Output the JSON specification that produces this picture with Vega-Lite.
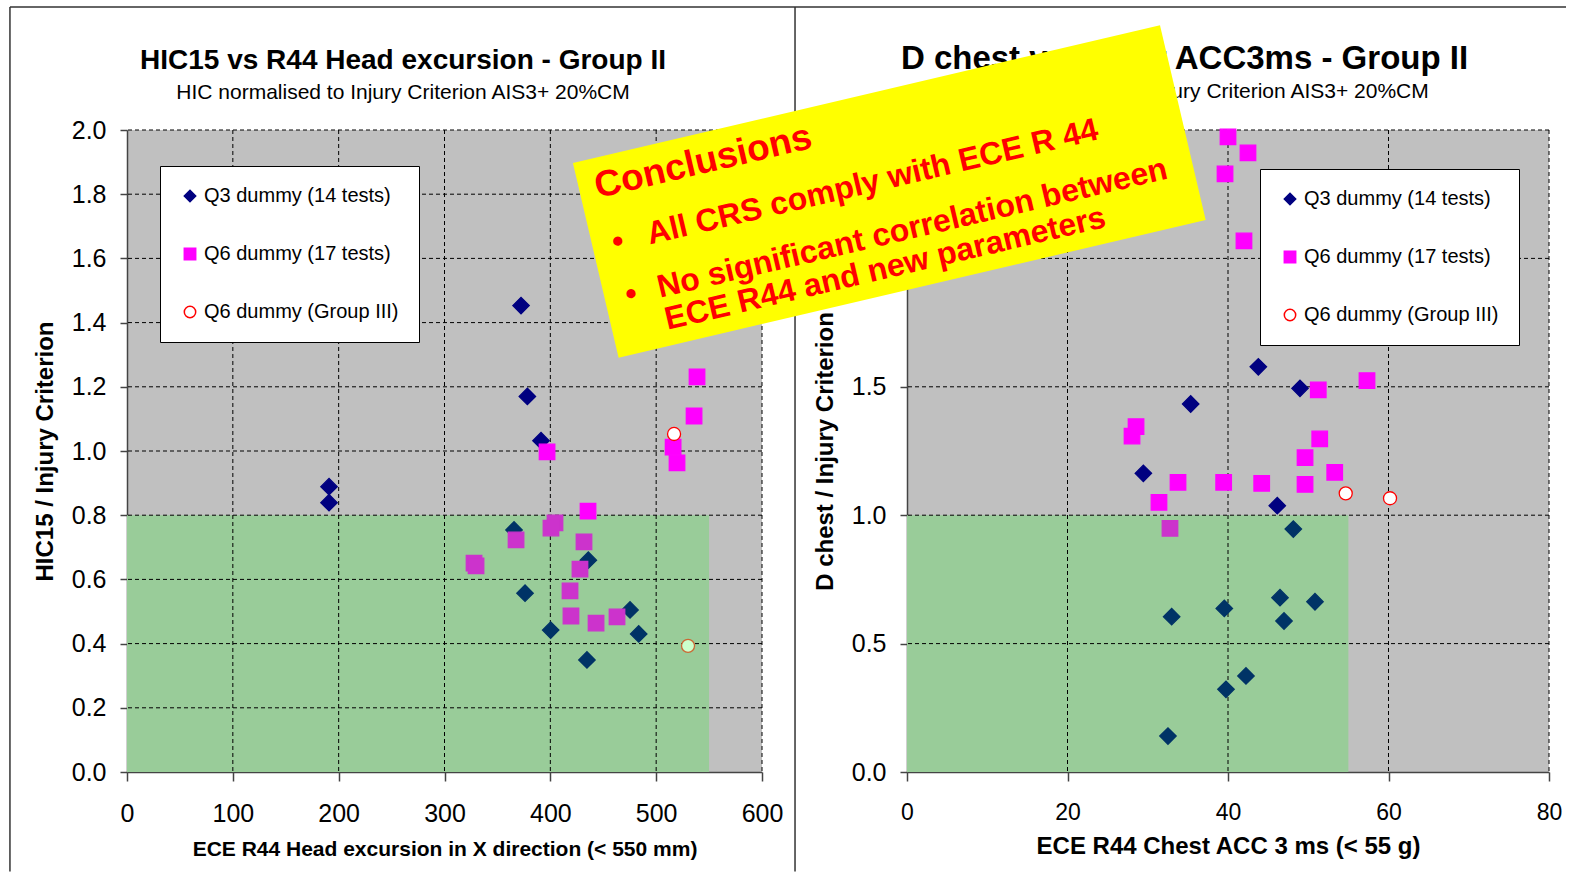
{
  "$schema": "https://vega.github.io/schema/vega-lite/v6.json",
  "background": "white",
  "padding": {"left": 9, "top": 6, "right": 2, "bottom": 2},
  "autosize": {"type": "pad"},
  "spacing": 145,
  "bounds": "flush",
  "resolve": {"scale": {"fill": "independent", "stroke": "independent", "shape": "independent"}, "legend": {"fill": "independent", "stroke": "independent", "shape": "independent"}},
  "config": {
    "view": {"fill": "#C0C0C0", "stroke": null},
    "font": "Liberation Sans",
    "axis": {"grid": false, "domainColor": "#444444", "domainWidth": 1.5, "tickColor": "#444444", "tickWidth": 1.5, "labelColor": "black", "labelFont": "Liberation Sans", "titleFont": "Liberation Sans", "titleColor": "black", "titleFontWeight": "bold", "labelFlush": false, "labelOverlap": false},
    "legend": {"fillColor": "white", "strokeColor": "black", "padding": 20, "rowPadding": 38, "labelFontSize": 20, "labelFont": "Liberation Sans", "labelColor": "black", "labelOffset": 4, "symbolSize": 130, "symbolStrokeWidth": 1.5, "labelLimit": 400},
    "title": {"font": "Liberation Sans", "subtitleFont": "Liberation Sans", "color": "black", "subtitleColor": "black", "fontWeight": "bold", "anchor": "middle", "frame": "group", "subtitleFontSize": 21, "offset": 28, "subtitlePadding": 7}
  },
  "hconcat": [
    {
      "width": 635,
      "height": 642,
      "title": {"text": "HIC15 vs R44 Head excursion - Group II", "subtitle": "HIC normalised to Injury Criterion AIS3+ 20%CM", "fontSize": 28, "dx": -41.5, "dy": 125},
      "layer": [
        {
          "data": {"values": [
            {"excursion": -110.6, "excursion2": 631.2, "hic": 2.383, "hic2": 2.383},
            {"excursion": -110.6, "excursion2": -110.6, "hic": 2.383, "hic2": -0.31},
            {"excursion": 631.2, "excursion2": 631.2, "hic": 2.383, "hic2": -0.31}
          ]},
          "mark": {"type": "rule", "stroke": "#333333", "strokeWidth": 1.5, "clip": false},
          "encoding": {
            "x": {"field": "excursion", "type": "quantitative", "scale": {"domain": [0, 600], "nice": false, "zero": false}},
            "x2": {"field": "excursion2"},
            "y": {"field": "hic", "type": "quantitative", "scale": {"domain": [0, 2], "nice": false, "zero": false}},
            "y2": {"field": "hic2"}
          }
        },
        {
          "data": {"values": [{"excursion": 0, "excursion2": 550, "hic": 0, "hic2": 0.8}]},
          "mark": {"type": "rect", "fill": "#99CC99"},
          "encoding": {
            "x": {"field": "excursion", "type": "quantitative", "scale": {"domain": [0, 600], "nice": false, "zero": false}},
            "x2": {"field": "excursion2"},
            "y": {"field": "hic", "type": "quantitative", "scale": {"domain": [0, 2], "nice": false, "zero": false}},
            "y2": {"field": "hic2"}
          }
        },
        {
          "data": {"values": [{"excursion": 100}, {"excursion": 200}, {"excursion": 300}, {"excursion": 400}, {"excursion": 500}, {"excursion": 600}]},
          "mark": {"type": "rule", "stroke": "black", "strokeWidth": 1, "strokeDash": [4, 3]},
          "encoding": {
            "x": {"field": "excursion", "type": "quantitative", "scale": {"domain": [0, 600], "nice": false, "zero": false}}
          }
        },
        {
          "data": {"values": [{"hic": 0.2}, {"hic": 0.4}, {"hic": 0.6}, {"hic": 0.8}, {"hic": 1.0}, {"hic": 1.2}, {"hic": 1.4}, {"hic": 1.6}, {"hic": 1.8}, {"hic": 2.0}]},
          "mark": {"type": "rule", "stroke": "black", "strokeWidth": 1, "strokeDash": [4, 3]},
          "encoding": {
            "y": {"field": "hic", "type": "quantitative", "scale": {"domain": [0, 2], "nice": false, "zero": false}}
          }
        },
        {
          "data": {"values": [
            {"series": "Q3 dummy (14 tests)", "excursion": 190.9, "hic": 0.889},
            {"series": "Q3 dummy (14 tests)", "excursion": 190.9, "hic": 0.839},
            {"series": "Q3 dummy (14 tests)", "excursion": 372.3, "hic": 1.453},
            {"series": "Q3 dummy (14 tests)", "excursion": 378.3, "hic": 1.170},
            {"series": "Q3 dummy (14 tests)", "excursion": 391.2, "hic": 1.032},
            {"series": "Q3 dummy (14 tests)", "excursion": 365.7, "hic": 0.754},
            {"series": "Q3 dummy (14 tests)", "excursion": 435.9, "hic": 0.660},
            {"series": "Q3 dummy (14 tests)", "excursion": 376.1, "hic": 0.557},
            {"series": "Q3 dummy (14 tests)", "excursion": 475.3, "hic": 0.505},
            {"series": "Q3 dummy (14 tests)", "excursion": 400.3, "hic": 0.442},
            {"series": "Q3 dummy (14 tests)", "excursion": 483.5, "hic": 0.430},
            {"series": "Q3 dummy (14 tests)", "excursion": 434.6, "hic": 0.349},
            {"series": "Q6 dummy (17 tests)", "excursion": 538.6, "hic": 1.231},
            {"series": "Q6 dummy (17 tests)", "excursion": 535.8, "hic": 1.109},
            {"series": "Q6 dummy (17 tests)", "excursion": 396.9, "hic": 0.997},
            {"series": "Q6 dummy (17 tests)", "excursion": 516.0, "hic": 1.012},
            {"series": "Q6 dummy (17 tests)", "excursion": 519.7, "hic": 0.963},
            {"series": "Q6 dummy (17 tests)", "excursion": 435.6, "hic": 0.813},
            {"series": "Q6 dummy (17 tests)", "excursion": 404.4, "hic": 0.776},
            {"series": "Q6 dummy (17 tests)", "excursion": 400.6, "hic": 0.760},
            {"series": "Q6 dummy (17 tests)", "excursion": 367.6, "hic": 0.723},
            {"series": "Q6 dummy (17 tests)", "excursion": 431.8, "hic": 0.717},
            {"series": "Q6 dummy (17 tests)", "excursion": 327.9, "hic": 0.651},
            {"series": "Q6 dummy (17 tests)", "excursion": 329.8, "hic": 0.642},
            {"series": "Q6 dummy (17 tests)", "excursion": 428.0, "hic": 0.632},
            {"series": "Q6 dummy (17 tests)", "excursion": 418.6, "hic": 0.564},
            {"series": "Q6 dummy (17 tests)", "excursion": 419.5, "hic": 0.486},
            {"series": "Q6 dummy (17 tests)", "excursion": 443.2, "hic": 0.464},
            {"series": "Q6 dummy (17 tests)", "excursion": 463.0, "hic": 0.483},
            {"series": "Q6 dummy (Group III)", "excursion": 516.9, "hic": 1.053},
            {"series": "Q6 dummy (Group III)", "excursion": 530.1, "hic": 0.393}
          ]},
          "mark": {"type": "point", "filled": true, "opacity": 1, "strokeWidth": 1.3},
          "encoding": {
            "x": {"field": "excursion", "type": "quantitative", "scale": {"domain": [0, 600], "nice": false, "zero": false},
              "axis": {"values": [0, 100, 200, 300, 400, 500, 600], "labelFontSize": 25, "tickSize": 9, "labelPadding": 20, "title": "ECE R44 Head excursion in X direction (< 550 mm)", "titleFontSize": 21, "titlePadding": 12}},
            "y": {"field": "hic", "type": "quantitative", "scale": {"domain": [0, 2], "nice": false, "zero": false},
              "axis": {"values": [0, 0.2, 0.4, 0.6, 0.8, 1.0, 1.2, 1.4, 1.6, 1.8, 2.0], "format": ".1f", "labelFontSize": 25, "tickSize": 7, "labelPadding": 14, "title": "HIC15 / Injury Criterion", "titleFontSize": 24, "titlePadding": 14}},
            "shape": {"field": "series", "type": "nominal",
              "scale": {"domain": ["Q3 dummy (14 tests)", "Q6 dummy (17 tests)", "Q6 dummy (Group III)"], "range": ["diamond", "square", "circle"]},
              "legend": {"orient": "none", "legendX": 33, "legendY": 36, "title": null}},
            "fill": {"field": "series", "type": "nominal",
              "scale": {"domain": ["Q3 dummy (14 tests)", "Q6 dummy (17 tests)", "Q6 dummy (Group III)"], "range": ["#000080", "#FF00FF", "#FFFFFF"]},
              "legend": {"orient": "none", "legendX": 33, "legendY": 36, "title": null},
              "condition": [
                {"test": "datum.excursion < 550 && datum.hic < 0.8 && indexof(datum.series, 'Q3') >= 0", "value": "#003366"},
                {"test": "datum.excursion < 550 && datum.hic < 0.8 && indexof(datum.series, '17') >= 0", "value": "#CC33CC"},
                {"test": "datum.excursion < 550 && datum.hic < 0.8 && indexof(datum.series, 'III') >= 0", "value": "#CCFFCC"}
              ]},
            "stroke": {"field": "series", "type": "nominal",
              "scale": {"domain": ["Q3 dummy (14 tests)", "Q6 dummy (17 tests)", "Q6 dummy (Group III)"], "range": ["#000080", "#FF00FF", "#FF0000"]},
              "legend": {"orient": "none", "legendX": 33, "legendY": 36, "title": null},
              "condition": [
                {"test": "datum.excursion < 550 && datum.hic < 0.8 && indexof(datum.series, 'Q3') >= 0", "value": "#003366"},
                {"test": "datum.excursion < 550 && datum.hic < 0.8 && indexof(datum.series, '17') >= 0", "value": "#CC33CC"},
                {"test": "datum.excursion < 550 && datum.hic < 0.8 && indexof(datum.series, 'III') >= 0", "value": "#CC6633"}
              ]},
            "size": {"condition": [
                {"test": "indexof(datum.series, 'Q3') >= 0", "value": 270},
                {"test": "indexof(datum.series, '17') >= 0", "value": 240}
              ], "value": 170}
          }
        }
      ]
    },
    {
      "width": 642,
      "height": 642,
      "resolve": {"axis": {"x": "independent"}},
      "layer": [
        {
          "data": {"values": [
            {"acc": -13.96, "acc2": 82.12, "dchest": 2.979, "dchest2": 2.979}
          ]},
          "mark": {"type": "rule", "stroke": "#333333", "strokeWidth": 1.5, "clip": false},
          "encoding": {
            "x": {"field": "acc", "type": "quantitative", "scale": {"domain": [0, 80], "nice": false, "zero": false}, "axis": null},
            "x2": {"field": "acc2"},
            "y": {"field": "dchest", "type": "quantitative", "scale": {"domain": [0, 2.5], "nice": false, "zero": false}},
            "y2": {"field": "dchest2"}
          }
        },
        {
          "data": {"values": [{"acc": 0, "acc2": 55, "dchest": 0, "dchest2": 1.0}]},
          "mark": {"type": "rect", "fill": "#99CC99"},
          "encoding": {
            "x": {"field": "acc", "type": "quantitative", "scale": {"domain": [0, 80], "nice": false, "zero": false},
              "axis": {"orient": "top", "title": "D chest normalised to Injury Criterion AIS3+ 20%CM", "titleFontSize": 21, "titleFontWeight": "normal", "labels": false, "ticks": false, "domain": false, "titlePadding": 29, "titleX": 277, "offset": 0}},
            "x2": {"field": "acc2"},
            "y": {"field": "dchest", "type": "quantitative", "scale": {"domain": [0, 2.5], "nice": false, "zero": false}},
            "y2": {"field": "dchest2"}
          }
        },
        {
          "data": {"values": [{"acc": 20}, {"acc": 40}, {"acc": 60}, {"acc": 80}]},
          "mark": {"type": "rule", "stroke": "black", "strokeWidth": 1, "strokeDash": [4, 3]},
          "encoding": {
            "x": {"field": "acc", "type": "quantitative", "scale": {"domain": [0, 80], "nice": false, "zero": false},
              "axis": {"orient": "top", "title": "D chest vs Chest ACC3ms - Group II", "titleFontSize": 33, "titleFontWeight": "bold", "labels": false, "ticks": false, "domain": false, "titlePadding": 0, "titleX": 277, "offset": 55}}
          }
        },
        {
          "data": {"values": [{"dchest": 0.5}, {"dchest": 1.0}, {"dchest": 1.5}, {"dchest": 2.0}, {"dchest": 2.5}]},
          "mark": {"type": "rule", "stroke": "black", "strokeWidth": 1, "strokeDash": [4, 3]},
          "encoding": {
            "y": {"field": "dchest", "type": "quantitative", "scale": {"domain": [0, 2.5], "nice": false, "zero": false}}
          }
        },
        {
          "data": {"values": [
            {"series": "Q3 dummy (14 tests)", "acc": 43.78, "dchest": 1.578},
            {"series": "Q3 dummy (14 tests)", "acc": 48.97, "dchest": 1.494},
            {"series": "Q3 dummy (14 tests)", "acc": 35.35, "dchest": 1.433},
            {"series": "Q3 dummy (14 tests)", "acc": 29.45, "dchest": 1.163},
            {"series": "Q3 dummy (14 tests)", "acc": 46.14, "dchest": 1.037},
            {"series": "Q3 dummy (14 tests)", "acc": 48.14, "dchest": 0.946},
            {"series": "Q3 dummy (14 tests)", "acc": 46.48, "dchest": 0.679},
            {"series": "Q3 dummy (14 tests)", "acc": 50.84, "dchest": 0.663},
            {"series": "Q3 dummy (14 tests)", "acc": 32.98, "dchest": 0.605},
            {"series": "Q3 dummy (14 tests)", "acc": 39.54, "dchest": 0.637},
            {"series": "Q3 dummy (14 tests)", "acc": 46.98, "dchest": 0.588},
            {"series": "Q3 dummy (14 tests)", "acc": 42.24, "dchest": 0.374},
            {"series": "Q3 dummy (14 tests)", "acc": 39.75, "dchest": 0.322},
            {"series": "Q3 dummy (14 tests)", "acc": 32.52, "dchest": 0.140},
            {"series": "Q6 dummy (17 tests)", "acc": 40.0, "dchest": 2.473},
            {"series": "Q6 dummy (17 tests)", "acc": 42.49, "dchest": 2.411},
            {"series": "Q6 dummy (17 tests)", "acc": 39.63, "dchest": 2.329},
            {"series": "Q6 dummy (17 tests)", "acc": 41.99, "dchest": 2.068},
            {"series": "Q6 dummy (17 tests)", "acc": 57.32, "dchest": 1.524},
            {"series": "Q6 dummy (17 tests)", "acc": 51.25, "dchest": 1.488},
            {"series": "Q6 dummy (17 tests)", "acc": 28.54, "dchest": 1.345},
            {"series": "Q6 dummy (17 tests)", "acc": 28.04, "dchest": 1.308},
            {"series": "Q6 dummy (17 tests)", "acc": 51.43, "dchest": 1.297},
            {"series": "Q6 dummy (17 tests)", "acc": 49.60, "dchest": 1.224},
            {"series": "Q6 dummy (17 tests)", "acc": 53.30, "dchest": 1.167},
            {"series": "Q6 dummy (17 tests)", "acc": 33.77, "dchest": 1.128},
            {"series": "Q6 dummy (17 tests)", "acc": 39.46, "dchest": 1.128},
            {"series": "Q6 dummy (17 tests)", "acc": 44.20, "dchest": 1.124},
            {"series": "Q6 dummy (17 tests)", "acc": 49.60, "dchest": 1.120},
            {"series": "Q6 dummy (17 tests)", "acc": 31.40, "dchest": 1.050},
            {"series": "Q6 dummy (17 tests)", "acc": 32.77, "dchest": 0.949},
            {"series": "Q6 dummy (Group III)", "acc": 54.67, "dchest": 1.085},
            {"series": "Q6 dummy (Group III)", "acc": 60.19, "dchest": 1.066}
          ]},
          "mark": {"type": "point", "filled": true, "opacity": 1, "strokeWidth": 1.3},
          "encoding": {
            "x": {"field": "acc", "type": "quantitative", "scale": {"domain": [0, 80], "nice": false, "zero": false},
              "axis": {"orient": "bottom", "values": [0, 20, 40, 60, 80], "format": "d", "labelFontSize": 23, "tickSize": 9, "labelPadding": 20, "title": "ECE R44 Chest ACC 3 ms (< 55 g)", "titleFontSize": 24, "titlePadding": 10}},
            "y": {"field": "dchest", "type": "quantitative", "scale": {"domain": [0, 2.5], "nice": false, "zero": false},
              "axis": {"values": [0, 0.5, 1.0, 1.5, 2.0, 2.5], "format": ".1f", "labelFontSize": 25, "tickSize": 7, "labelPadding": 14, "title": "D chest / Injury Criterion", "titleFontSize": 24, "titlePadding": 14}},
            "shape": {"field": "series", "type": "nominal",
              "scale": {"domain": ["Q3 dummy (14 tests)", "Q6 dummy (17 tests)", "Q6 dummy (Group III)"], "range": ["diamond", "square", "circle"]},
              "legend": {"orient": "none", "legendX": 353, "legendY": 39, "title": null}},
            "fill": {"field": "series", "type": "nominal",
              "scale": {"domain": ["Q3 dummy (14 tests)", "Q6 dummy (17 tests)", "Q6 dummy (Group III)"], "range": ["#000080", "#FF00FF", "#FFFFFF"]},
              "legend": {"orient": "none", "legendX": 353, "legendY": 39, "title": null},
              "condition": [
                {"test": "datum.acc < 55 && datum.dchest < 1 && indexof(datum.series, 'Q3') >= 0", "value": "#003366"},
                {"test": "datum.acc < 55 && datum.dchest < 1 && indexof(datum.series, '17') >= 0", "value": "#CC33CC"}
              ]},
            "stroke": {"field": "series", "type": "nominal",
              "scale": {"domain": ["Q3 dummy (14 tests)", "Q6 dummy (17 tests)", "Q6 dummy (Group III)"], "range": ["#000080", "#FF00FF", "#FF0000"]},
              "legend": {"orient": "none", "legendX": 353, "legendY": 39, "title": null},
              "condition": [
                {"test": "datum.acc < 55 && datum.dchest < 1 && indexof(datum.series, 'Q3') >= 0", "value": "#003366"},
                {"test": "datum.acc < 55 && datum.dchest < 1 && indexof(datum.series, '17') >= 0", "value": "#CC33CC"}
              ]},
            "size": {"condition": [
                {"test": "indexof(datum.series, 'Q3') >= 0", "value": 270},
                {"test": "indexof(datum.series, '17') >= 0", "value": 240}
              ], "value": 170}
          }
        },
        {
          "data": {"values": [{"acc": -2.206, "dchest": 2.2605}]},
          "mark": {"type": "point", "shape": "M-1,-0.3317L1,-0.3317L1,0.3317L-1,0.3317Z", "size": 363609, "angle": -13.2, "filled": true, "fill": "#FFFF00", "strokeWidth": 0, "opacity": 1, "clip": false},
          "encoding": {
            "x": {"field": "acc", "type": "quantitative", "scale": {"domain": [0, 80], "nice": false, "zero": false}, "axis": null},
            "y": {"field": "dchest", "type": "quantitative", "scale": {"domain": [0, 2.5], "nice": false, "zero": false}}
          }
        },
        {
          "data": {"values": [{"acc": -38.54, "dchest": 2.2344, "note": "Conclusions"}]},
          "mark": {"type": "text", "angle": -13.2, "align": "left", "baseline": "alphabetic", "fontSize": 37, "fontWeight": "bold", "font": "Liberation Sans", "fill": "#FF0000", "clip": false},
          "encoding": {
            "x": {"field": "acc", "type": "quantitative", "scale": {"domain": [0, 80], "nice": false, "zero": false}, "axis": null},
            "y": {"field": "dchest", "type": "quantitative", "scale": {"domain": [0, 2.5], "nice": false, "zero": false}},
            "text": {"field": "note"}
          }
        },
        {
          "data": {"values": [
            {"acc": -36.42, "dchest": 2.0218, "note": "•"},
            {"acc": -32.06, "dchest": 2.0537, "note": "All CRS comply with ECE R 44"},
            {"acc": -34.78, "dchest": 1.8178, "note": "•"},
            {"acc": -30.77, "dchest": 1.8470, "note": "No significant correlation between"},
            {"acc": -29.83, "dchest": 1.7220, "note": "ECE R44 and new parameters"}
          ]},
          "mark": {"type": "text", "angle": -13.2, "align": "left", "baseline": "alphabetic", "fontSize": 32, "fontWeight": "bold", "font": "Liberation Sans", "fill": "#FF0000", "clip": false},
          "encoding": {
            "x": {"field": "acc", "type": "quantitative", "scale": {"domain": [0, 80], "nice": false, "zero": false}, "axis": null},
            "y": {"field": "dchest", "type": "quantitative", "scale": {"domain": [0, 2.5], "nice": false, "zero": false}},
            "text": {"field": "note"}
          }
        }
      ]
    }
  ]
}
